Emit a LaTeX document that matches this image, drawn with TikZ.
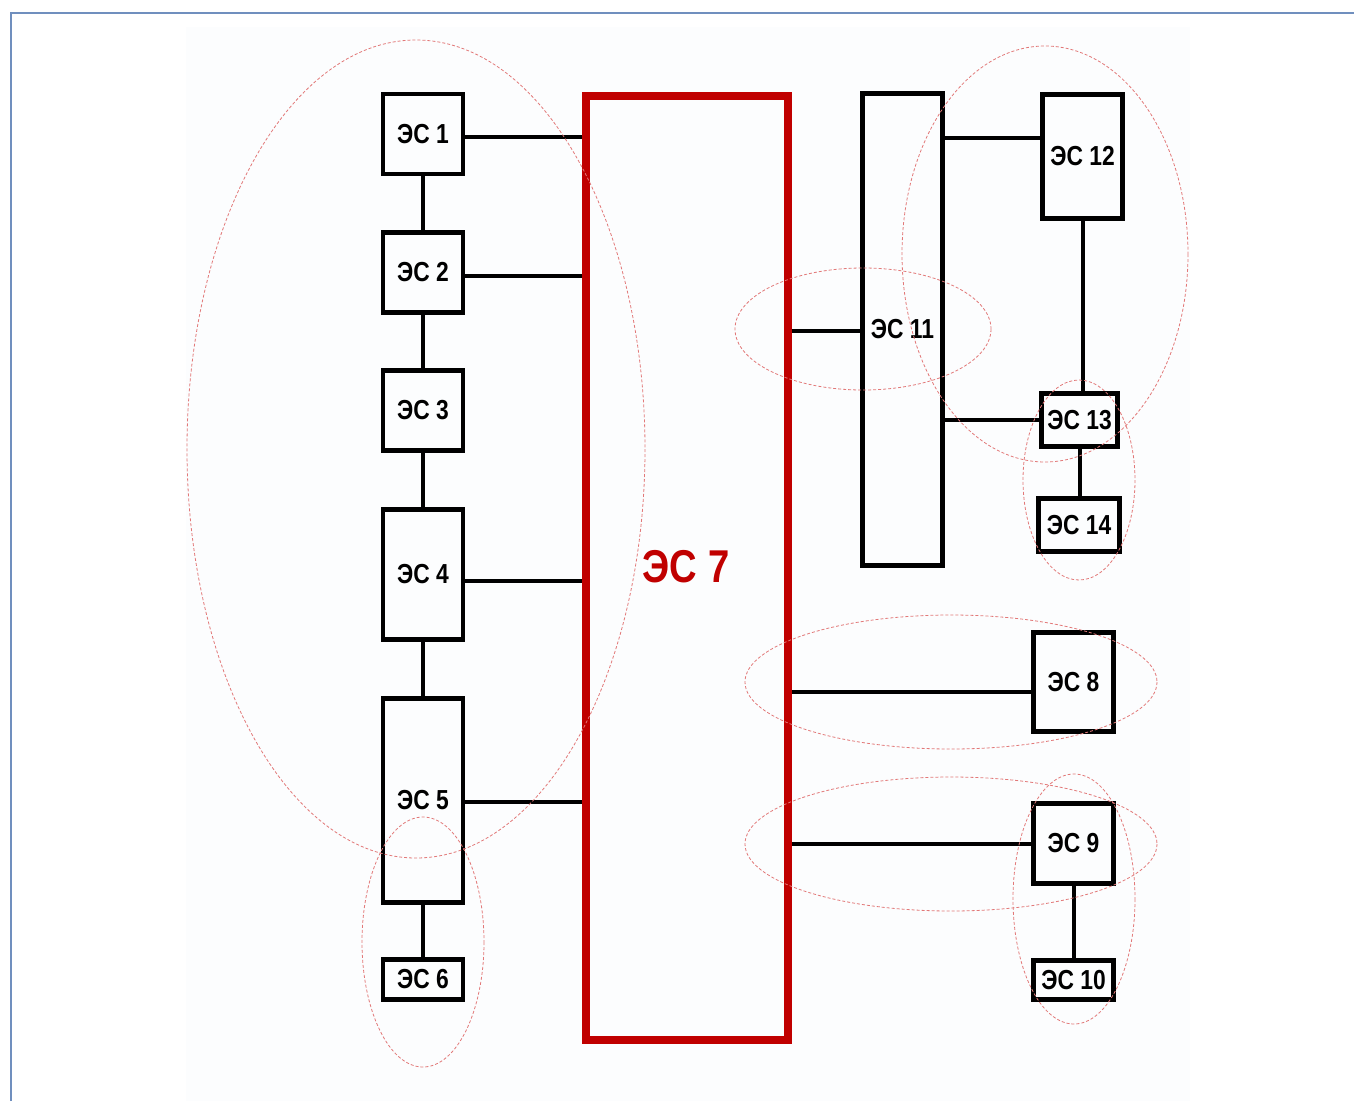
\documentclass[tikz,border=0pt]{standalone}
\usepackage{fontspec}
\setmainfont{Liberation Sans}[FakeStretch=0.83]
\usepackage{tikz}
\usetikzlibrary{positioning,calc}

\definecolor{esred}{RGB}{192,0,0}
\definecolor{zonered}{RGB}{226,120,120}
\definecolor{framebl}{RGB}{112,143,190}
\definecolor{pagebg}{RGB}{252,253,254}

\begin{document}
\begin{tikzpicture}[
    x=1pt, y=-1pt,
    font=\fontsize{27.5}{30}\selectfont\bfseries,
    esbox/.style={draw, line width=4.5pt, inner sep=0pt,
                  minimum width=80pt, minimum height=#1},
    esbus/.style={draw=esred, line width=8pt, inner sep=0pt,
                  minimum width=202pt, minimum height=944pt},
    link/.style={line width=4pt},
    zone/.style={draw=zonered, line width=0.8pt, dash pattern=on 3pt off 2pt}
  ]
    \useasboundingbox (0,0) rectangle (1354,1101);
    \fill[pagebg] (186,27) rectangle (1190,1101);
    \draw[framebl, line width=1.5pt] (11,1101) -- (11,13) -- (1354,13);

    % left column
    \node[esbox=80pt]  (es1) at (423,134)   {ЭС 1};
    \node[esbox=80pt]  (es2) at (423,272.5) {ЭС 2};
    \node[esbox=80pt]  (es3) at (423,410.5) {ЭС 3};
    \node[esbox=130pt] (es4) at (423,574.5) {ЭС 4};
    \node[esbox=204pt] (es5) at (423,800.5) {ЭС 5};
    \node[esbox=40pt]  (es6) at (423,979.5) {ЭС 6};

    % central bus
    \node[esbus] (es7) at (686.5,567.5) {};
    \node[text=esred, font=\fontsize{46}{48}\selectfont\bfseries] (lb7) at (686,567) {ЭС 7};

    % right side
    \node[esbox=472pt] (es11) at (902.5,329.5) {ЭС 11};
    \node[esbox=124pt] (es12) at (1082.5,156.5) {ЭС 12};
    \node[esbox=53pt, minimum width=76pt] (es13) at (1079.5,420) {ЭС 13};
    \node[esbox=53pt, minimum width=81pt] (es14) at (1079,525) {ЭС 14};
    \node[esbox=99pt]  (es8)  at (1073.5,682)   {ЭС 8};
    \node[esbox=80pt]  (es9)  at (1073.5,843.5) {ЭС 9};
    \node[esbox=39pt]  (es10) at (1073.5,980)   {ЭС 10};

    \foreach \a/\b in {es1/es2, es2/es3, es3/es4, es4/es5, es5/es6}
      \draw[link] (\a.south) -- (\b.north);
    \foreach \a/\d in {es1/-3, es2/-3.5, es4/-6.5, es5/-1.5}
      \draw[link] ([yshift=\d pt]\a.east) -- ([yshift=\d pt]\a.east -| es7.west);

    \draw[link] ([yshift=-1.5pt]es11.west) -- ([yshift=-1.5pt]es11.west -| es7.east);
    \draw[link] ([yshift=19pt]es12.west) -- ([yshift=19pt]es12.west -| es11.east);
    \draw[link] (es13.west) -- (es13.west -| es11.east);
    \draw[link] (es12.south) -- (es12.south |- es13.north);
    \draw[link] (es13.south) -- (es13.south |- es14.north);
    \draw[link] ([yshift=-10pt]es8.west) -- ([yshift=-10pt]es8.west -| es7.east);
    \draw[link] (es9.west) -- (es9.west -| es7.east);
    \draw[link] (es9.south) -- (es10.north);

    % groups
    \draw[zone] (416,449) ellipse [x radius=229, y radius=409];
    \draw[zone] (423,942) ellipse [x radius=61, y radius=125];
    \draw[zone] (863,329) ellipse [x radius=128, y radius=61];
    \draw[zone] (1045,254) ellipse [x radius=143, y radius=208];
    \draw[zone] (1079,480) ellipse [x radius=56, y radius=100];
    \draw[zone] (951,682) ellipse [x radius=206, y radius=67];
    \draw[zone] (951,844) ellipse [x radius=206, y radius=67];
    \draw[zone] (1074,899) ellipse [x radius=61, y radius=125];
  \end{tikzpicture}
\end{document}
